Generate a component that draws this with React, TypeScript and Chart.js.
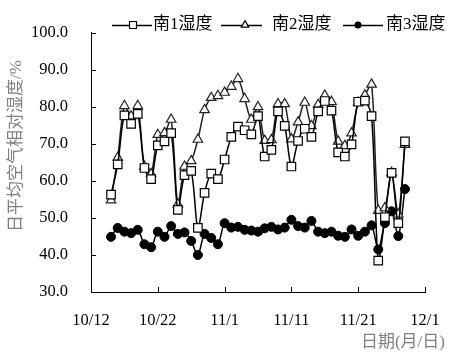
import { useEffect, useRef } from "react";
import { Chart, registerables } from "chart.js";

Chart.register(...registerables);

const dates = [
  "10/15", "10/16", "10/17", "10/18", "10/19", "10/20", "10/21", "10/22", "10/23", "10/24",
  "10/25", "10/26", "10/27", "10/28", "10/29", "10/30", "10/31",
  "11/1", "11/2", "11/3", "11/4", "11/5", "11/6", "11/7", "11/8", "11/9", "11/10",
  "11/11", "11/12", "11/13", "11/14", "11/15", "11/16", "11/17", "11/18", "11/19", "11/20",
  "11/21", "11/22", "11/23", "11/24", "11/25", "11/26", "11/27", "11/28",
];

const tickLabels = ["10/12", "10/22", "11/1", "11/11", "11/21", "12/1"];
const yTickValues = [30, 40, 50, 60, 70, 80, 90, 100];
const seriesNames = ["南1湿度", "南2湿度", "南3湿度"];
const xTitle = "日期(月/日)";
const yTitle = "日平均空气相对湿度/%";

const south1 = [
  56.3, 64.5, 77.7, 75.4, 78.1, 63.5, 60.5, 69.6, 70.7, 72.9,
  52.2, 61.6, 62.7, 47.3, 56.8, 62.0, 60.5,
  65.8, 71.9, 74.7, 73.7, 72.6, 77.5, 66.6, 68.4, 78.8, 74.9,
  63.9, 70.8, 74.1, 71.9, 78.8, 81.6, 79.0, 67.7, 66.6, 69.9,
  81.4, 81.7, 77.5, 38.5, 50.2, 62.2, 48.6, 70.7,
];

const south2 = [
  54.8, 66.3, 80.3, 77.5, 80.3, 63.9, 61.9, 72.5, 73.0, 76.6,
  53.7, 63.9, 65.4, 71.2, 79.2, 82.5, 83.0,
  83.9, 85.5, 87.6, 82.2, 76.6, 80.0, 70.9, 71.1, 80.8, 80.8,
  71.3, 75.9, 81.2, 74.9, 80.6, 83.1, 81.4, 70.7, 69.5, 72.9,
  81.2, 83.2, 86.1, 52.0, 52.7, 62.2, 51.0, 69.8,
];

const south3 = [
  44.9, 47.3, 46.3, 45.9, 46.8, 42.9, 42.1, 46.3, 44.9, 47.8,
  45.7, 46.1, 43.8, 40.0, 45.7, 44.6, 42.9,
  48.6, 47.4, 47.6, 46.8, 46.6, 46.3, 47.2, 47.6, 46.9, 47.4,
  49.5, 47.8, 47.4, 49.2, 46.3, 45.9, 46.3, 45.2, 44.9, 46.9,
  45.2, 46.3, 48.0, 41.5, 48.6, 51.8, 45.1, 57.8,
];

const BASE = new Date(2000, 9, 12).getTime();
function dayOffset(s: string): number {
  const [m, d] = s.split("/").map(Number);
  return Math.round((new Date(2000, m - 1, d).getTime() - BASE) / 86400000);
}

const SERIF = '"Liberation Serif", "Noto Sans CJK SC"';

function drawMarker(ctx: CanvasRenderingContext2D, style: string, x: number, y: number, size: number) {
  ctx.save();
  ctx.lineWidth = 1.2;
  ctx.strokeStyle = "#000";
  ctx.beginPath();
  if (style === "rect") {
    ctx.rect(x - size / 2, y - size / 2, size, size);
    ctx.fillStyle = "#fff";
    ctx.fill();
    ctx.stroke();
  } else if (style === "triangle") {
    const r = size / 1.6;
    ctx.moveTo(x, y - r);
    ctx.lineTo(x + r * Math.sin((2 * Math.PI) / 3), y - r * Math.cos((2 * Math.PI) / 3));
    ctx.lineTo(x + r * Math.sin((4 * Math.PI) / 3), y - r * Math.cos((4 * Math.PI) / 3));
    ctx.closePath();
    ctx.fillStyle = "#fff";
    ctx.fill();
    ctx.stroke();
  } else {
    ctx.arc(x, y, size / 2, 0, Math.PI * 2);
    ctx.fillStyle = "#000";
    ctx.fill();
  }
  ctx.restore();
}

const decorPlugin = {
  id: "decor",
  afterDraw(chart: any) {
    const ctx: CanvasRenderingContext2D = chart.ctx;
    const xs = chart.scales.x;
    const ys = chart.scales.y;
    const area = chart.chartArea;
    ctx.save();
    ctx.strokeStyle = "#000";
    ctx.lineWidth = 1;
    ctx.beginPath();
    yTickValues.forEach((v) => {
      const py = Math.round(ys.getPixelForValue(v)) + 0.5;
      ctx.moveTo(area.left, py);
      ctx.lineTo(area.left + 5, py);
    });
    tickLabels.forEach((_, i) => {
      const px = Math.round(xs.getPixelForValue(i * 10)) + 0.5;
      ctx.moveTo(px, area.bottom);
      ctx.lineTo(px, area.bottom - 5);
    });
    ctx.stroke();

    ctx.fillStyle = "#808080";
    ctx.font = `17px ${SERIF}`;
    ctx.textAlign = "right";
    ctx.textBaseline = "middle";
    ctx.fillText(xTitle, 445, 343);
    ctx.save();
    ctx.translate(17, 146);
    ctx.rotate(-Math.PI / 2);
    ctx.textAlign = "center";
    ctx.fillText(yTitle, 0, 0);
    ctx.restore();

    const items = [
      { style: "rect", l0: 112, l1: 152, m: 133, t: 153 },
      { style: "triangle", l0: 221, l1: 262, m: 245, t: 272 },
      { style: "circle", l0: 343, l1: 383, m: 358, t: 386 },
    ];
    const ly = 25;
    items.forEach((it, i) => {
      ctx.strokeStyle = "#000";
      ctx.lineWidth = 1.3;
      ctx.beginPath();
      ctx.moveTo(it.l0, ly + 0.5);
      ctx.lineTo(it.l1, ly + 0.5);
      ctx.stroke();
      drawMarker(ctx, it.style, it.m, ly, 7);
      ctx.fillStyle = "#000";
      ctx.font = `17px ${SERIF}`;
      ctx.textAlign = "left";
      ctx.textBaseline = "middle";
      ctx.fillText(seriesNames[i], it.t, ly);
    });
    ctx.restore();
  },
};

export default function App() {
  const ref = useRef<HTMLCanvasElement | null>(null);

  useEffect(() => {
    if (!ref.current) return;
    const xVals = dates.map(dayOffset);
    const mk = (arr: number[]) => arr.map((v, i) => ({ x: xVals[i], y: v }));
    const chart = new Chart(ref.current, {
      type: "line",
      data: {
        datasets: [
          {
            label: seriesNames[0],
            data: mk(south1),
            borderColor: "#000",
            borderWidth: 1.5,
            tension: 0.3,
            pointStyle: "rect",
            pointRadius: 6,
            pointBackgroundColor: "#fff",
            pointBorderColor: "#000",
            pointBorderWidth: 1.2,
          },
          {
            label: seriesNames[1],
            data: mk(south2),
            borderColor: "#222",
            borderWidth: 1.5,
            tension: 0.3,
            pointStyle: "triangle",
            pointRadius: 5.5,
            pointBackgroundColor: "#fff",
            pointBorderColor: "#222",
            pointBorderWidth: 1.2,
          },
          {
            label: seriesNames[2],
            data: mk(south3),
            borderColor: "#000",
            borderWidth: 1.5,
            tension: 0.3,
            pointStyle: "circle",
            pointRadius: 4.5,
            pointBackgroundColor: "#000",
            pointBorderColor: "#000",
            pointBorderWidth: 1,
          },
        ],
      },
      options: {
        animation: false,
        responsive: true,
        maintainAspectRatio: false,
        layout: { padding: { top: 17, right: 43, left: 0, bottom: 0 } },
        plugins: { legend: { display: false }, tooltip: { enabled: false } },
        scales: {
          x: {
            type: "linear",
            min: 0,
            max: 50,
            grid: { display: false, drawTicks: false },
            border: { display: true, color: "#000", width: 1 },
            afterFit: (s: any) => {
              s.height = 65;
            },
            afterBuildTicks: (s: any) => {
              s.ticks = tickLabels.map((_, i) => ({ value: i * 10 }));
            },
            ticks: {
              padding: 19,
              color: "#000",
              maxRotation: 0,
              autoSkip: false,
              font: { family: SERIF, size: 16.5 },
              callback: (v: any) => tickLabels[Math.round(Number(v) / 10)] ?? "",
            },
          },
          y: {
            min: 30,
            max: 100,
            grid: { display: false, drawTicks: false },
            border: { display: true, color: "#000", width: 1 },
            afterFit: (s: any) => {
              s.width = 91;
            },
            afterBuildTicks: (s: any) => {
              s.ticks = yTickValues.map((v) => ({ value: v }));
            },
            ticks: {
              padding: 23,
              color: "#000",
              font: { family: SERIF, size: 16.5 },
              callback: (v: any) => Number(v).toFixed(1),
            },
          },
        },
      },
      plugins: [decorPlugin],
    });
    return () => chart.destroy();
  }, []);

  return (
    <div style={{ position: "fixed", left: 0, top: 0, width: 468, height: 357, background: "#fff" }}>
      <canvas ref={ref} />
    </div>
  );
}
